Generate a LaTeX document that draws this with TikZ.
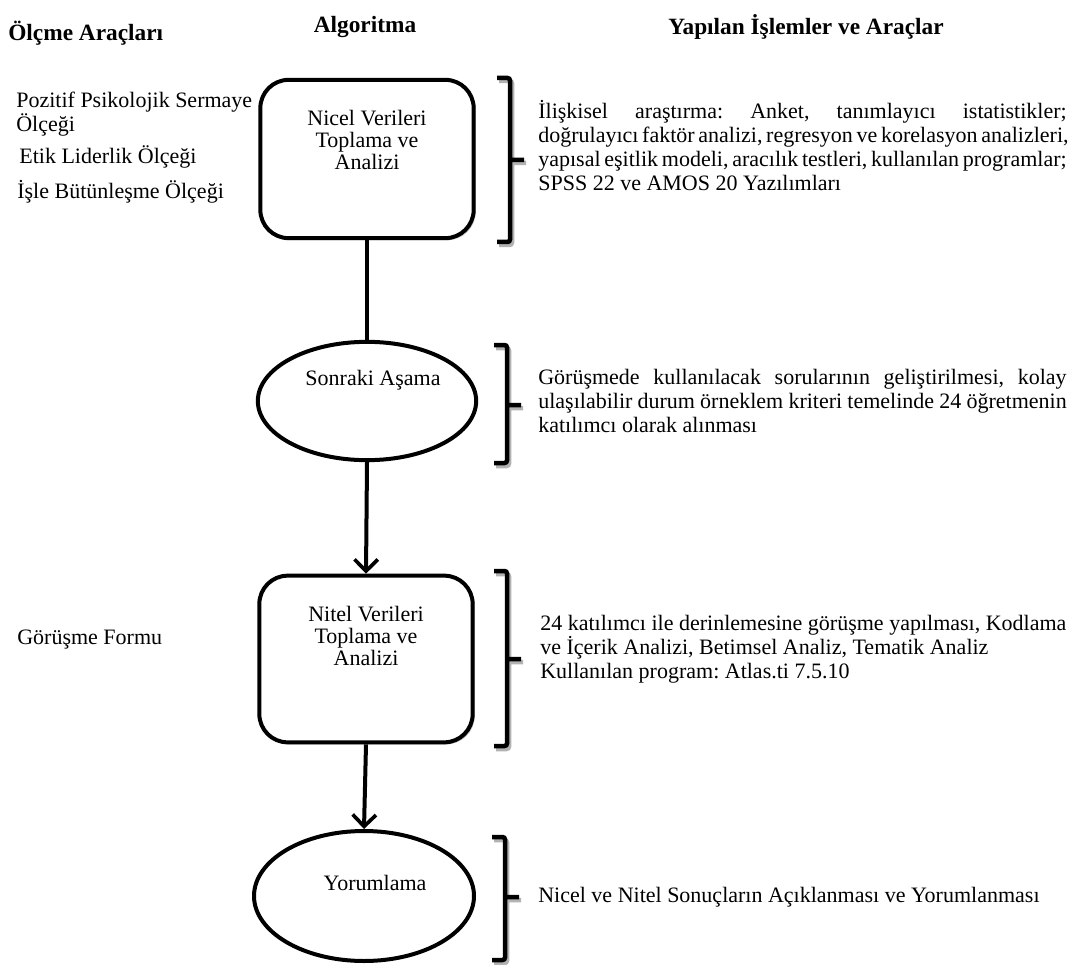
\documentclass[tikz,border=0pt]{standalone}
\usepackage{fontspec}
\setmainfont{Liberation Serif}
\usetikzlibrary{arrows.meta,shapes.geometric,shadows}
\tikzset{
    heading/.style={font=\fontsize{14}{16}\selectfont\bfseries, inner sep=0pt},
    stage/.style={draw, line width=2.4pt, rounded corners=17pt, fill=white,
                  minimum width=128pt,
                  drop shadow={shadow xshift=1.2pt, shadow yshift=-1.2pt,
                               fill=black!45, opacity=0.6}},
    phase/.style={ellipse, draw, line width=2.4pt, fill=white},
    inner/.style={align=center, inner sep=0pt,
                  font=\fontsize{13.2}{13.4}\selectfont},
    flow/.style={line width=2.4pt},
    flowarrow/.style={flow,
        -{Straight Barb[length=7pt, width=14pt, line width=2.2pt]}},
    bracket/.style={line width=2.7pt, rounded corners=1.5pt},
    bracket shadow/.style={bracket, draw=black!30},
    tool/.style={anchor=west, align=left, inner sep=0pt,
                 font=\fontsize{13.2}{12.8}\selectfont},
    steptext/.style={anchor=west, align=left, inner sep=0pt,
                     font=\fontsize{13.2}{14.4}\selectfont},
}
% bracket: x, top, bottom, tick
\newcommand{\sidebracket}[4]{
    \draw[bracket shadow] (#1-11,#2+3) -- (#1+2,#2+3) -- (#1+2,#3+3) -- (#1-11,#3+3)
        (#1+2,#4+3) -- (#1+16,#4+3);
    \draw[bracket] (#1-13,#2) -- (#1,#2) -- (#1,#3) -- (#1-13,#3)
        (#1,#4) -- (#1+14,#4);
}
\newcommand{\fullline}[1]{\makebox[317pt][s]{#1}}

\begin{document}
\frenchspacing
\begin{tikzpicture}[x=0.6pt, y=-0.6pt]
    \path[use as bounding box] (0,0) rectangle (1077,965);

    % column heads
    \node[heading, anchor=west] (measureHead) at (8,33) {Ölçme Araçları};
    \node[heading] (algoHead) at (365,27) {Algoritma};
    \node[heading] (workHead) at (806,27) {Yapılan İşlemler ve Araçlar};

    % measuring tools
    \node[tool] (ppsTool) at (16,114) {Pozitif Psikolojik Sermaye\\Ölçeği};
    \node[tool] (ethicTool) at (19,157) {Etik Liderlik Ölçeği};
    \node[tool] (engageTool) at (17,192) {İşle Bütünleşme Ölçeği};
    \node[tool] (formTool) at (17,640) {Görüşme Formu};

    % algorithm
    \node[stage, minimum height=95pt] (nicel) at (367,159) {};
    \node[inner] (nicelText) at (367,140) {Nicel Verileri\\Toplama ve\\Analizi};
    \node[phase, minimum width=131pt, minimum height=71pt] (sonraki) at (367,401) {};
    \node[inner] (sonrakiText) at (373,380) {Sonraki Aşama};
    \node[stage, minimum height=100pt] (nitel) at (366,659) {};
    \node[inner] (nitelText) at (366,636) {Nitel Verileri\\Toplama ve\\Analizi};
    \node[phase, minimum width=132pt, minimum height=78pt] (yorum) at (364,896) {};
    \node[inner] (yorumText) at (375,883) {Yorumlama};

    \draw[flow] (nicel.south) -- (sonraki.north);
    \draw[flowarrow] (sonraki.south) -- (nitel.north);
    \draw[flowarrow] (nitel.south) -- (yorum.north);

    % brackets
    \sidebracket{510}{78}{242}{160}
    \sidebracket{507}{345}{463}{405}
    \sidebracket{507}{571}{746}{659}
    \sidebracket{505}{837}{960}{897}

    % processes and tools
    \node[steptext] (nicelWork) at (538,146) {%
        \fullline{İlişkisel araştırma: Anket, tanımlayıcı istatistikler;}\\
        \fullline{doğrulayıcı faktör analizi, regresyon ve korelasyon analizleri,}\\
        \fullline{yapısal eşitlik modeli, aracılık testleri, kullanılan programlar;}\\
        SPSS 22 ve AMOS 20 Yazılımları};
    \node[steptext] (sonrakiWork) at (538,401) {%
        \fullline{Görüşmede kullanılacak sorularının geliştirilmesi, kolay}\\
        \fullline{ulaşılabilir durum örneklem kriteri temelinde 24 öğretmenin}\\
        katılımcı olarak alınması};
    \node[steptext] (nitelWork) at (540,649) {%
        24 katılımcı ile derinlemesine görüşme yapılması, Kodlama\\
        ve İçerik Analizi, Betimsel Analiz, Tematik Analiz\\
        Kullanılan program: Atlas.ti 7.5.10};
    \node[steptext] (yorumWork) at (538,897) {Nicel ve Nitel Sonuçların Açıklanması ve Yorumlanması};
\end{tikzpicture}
\end{document}
